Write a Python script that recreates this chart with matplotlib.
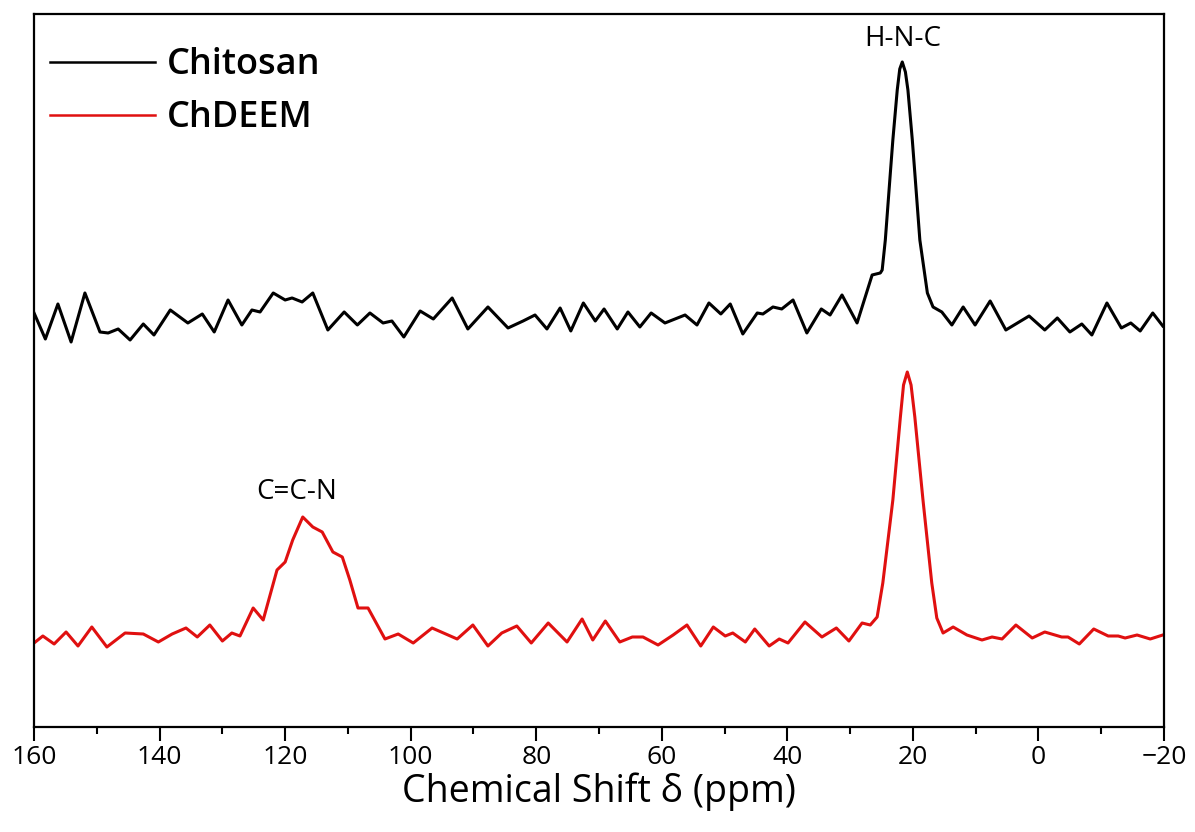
import numpy as np
import matplotlib
matplotlib.use('Agg')
from matplotlib import pyplot as plt
from matplotlib.ticker import MultipleLocator

plt.rcParams['font.family'] = ['Open Sans', 'DejaVu Sans']

# Chitosan, chemical shift (ppm) and intensity (a.u.)
chitosan_ppm = [160.0, 158.2, 156.2, 154.1, 151.9, 149.5, 148.2, 146.6, 144.7, 142.6,
                140.9, 138.3, 135.5, 133.2, 131.3, 129.1, 126.9, 125.3, 124.0, 121.9,
                120.0, 118.9, 117.3, 115.6, 113.2, 110.6, 108.5, 106.5, 104.4, 103.0,
                101.1, 98.5, 96.4, 93.4, 90.9, 87.7, 84.5, 82.1, 80.2, 78.3,
                76.2, 74.5, 72.5, 70.6, 69.2, 67.1, 65.4, 63.5, 61.7, 59.5,
                56.3, 54.4, 52.5, 50.6, 49.1, 47.1, 44.8, 43.9, 42.3, 40.9,
                39.1, 36.9, 34.6, 33.2, 31.3, 28.9, 26.5, 25.2, 24.9, 24.4,
                23.6, 23.2, 22.5, 22.1, 21.7, 21.2, 20.8, 20.1, 19.7, 18.9,
                17.7, 16.8, 15.4, 13.8, 12.0, 10.1, 7.7, 5.2, 1.5, -1.0,
                -3.0, -5.0, -6.9, -8.5, -10.9, -13.2, -14.7, -16.2, -18.2, -19.8]
chitosan_int = [4.14, 3.88, 4.23, 3.85, 4.34, 3.95, 3.94, 3.98, 3.87, 4.03,
                3.92, 4.17, 4.04, 4.13, 3.95, 4.27, 4.02, 4.17, 4.15, 4.34,
                4.27, 4.29, 4.25, 4.34, 3.97, 4.15, 4.02, 4.14, 4.04, 4.06,
                3.90, 4.16, 4.08, 4.29, 3.98, 4.20, 3.99, 4.06, 4.12, 3.98,
                4.19, 3.96, 4.24, 4.06, 4.18, 3.98, 4.15, 4.00, 4.14, 4.04,
                4.12, 4.02, 4.24, 4.13, 4.23, 3.93, 4.14, 4.13, 4.20, 4.18,
                4.27, 3.94, 4.18, 4.12, 4.32, 4.04, 4.52, 4.54, 4.57, 4.87,
                5.54, 5.87, 6.37, 6.58, 6.65, 6.55, 6.37, 5.87, 5.54, 4.87,
                4.34, 4.20, 4.15, 4.02, 4.20, 4.02, 4.26, 3.97, 4.11, 3.97,
                4.09, 3.95, 4.03, 3.92, 4.24, 3.99, 4.04, 3.96, 4.14, 4.01]

# ChDEEM
chdeem_ppm = [160.0, 158.6, 156.8, 154.9, 153.0, 150.8, 148.4, 145.5, 142.6, 140.2,
              138.0, 135.8, 134.0, 132.0, 130.0, 128.5, 127.2, 125.1, 123.5, 121.3,
              120.0, 118.8, 117.2, 115.6, 114.1, 112.4, 110.9, 109.7, 108.4, 106.8,
              104.1, 102.0, 99.6, 96.6, 92.6, 90.1, 87.7, 85.5, 83.1, 80.8,
              78.1, 75.1, 72.7, 71.0, 69.0, 66.7, 64.7, 63.0, 60.6, 58.2,
              56.0, 53.8, 51.8, 49.9, 48.7, 46.7, 45.2, 42.9, 41.3, 39.9,
              37.2, 34.5, 32.2, 30.2, 28.1, 26.8, 25.7, 24.8, 23.2, 22.0,
              21.5, 20.9, 20.3, 19.7, 18.4, 17.0, 16.2, 15.2, 13.6, 11.4,
              9.0, 7.4, 5.8, 3.6, 1.0, -1.0, -3.7, -4.7, -6.5, -8.8,
              -11.1, -12.7, -13.8, -15.7, -17.8, -19.8]
chdeem_int = [0.84, 0.91, 0.83, 0.95, 0.81, 1.00, 0.80, 0.94, 0.93, 0.85,
              0.93, 0.99, 0.90, 1.02, 0.86, 0.94, 0.91, 1.19, 1.07, 1.57,
              1.65, 1.87, 2.10, 2.00, 1.95, 1.75, 1.70, 1.47, 1.19, 1.19,
              0.88, 0.93, 0.84, 0.99, 0.88, 1.02, 0.81, 0.94, 1.01, 0.84,
              1.04, 0.85, 1.08, 0.87, 1.06, 0.85, 0.90, 0.90, 0.82, 0.92,
              1.02, 0.81, 1.00, 0.91, 0.94, 0.85, 0.98, 0.81, 0.88, 0.84,
              1.05, 0.90, 0.99, 0.86, 1.04, 1.02, 1.10, 1.44, 2.27, 3.10,
              3.42, 3.55, 3.42, 3.10, 2.27, 1.44, 1.09, 0.94, 1.00, 0.92,
              0.87, 0.90, 0.88, 1.02, 0.89, 0.95, 0.90, 0.90, 0.83, 0.98,
              0.91, 0.91, 0.89, 0.92, 0.88, 0.92]

fig = plt.figure(figsize=(11.95, 8.32), dpi=100)
ax = fig.add_axes([0.0285, 0.1262, 0.9456, 0.8570])

ax.plot(chitosan_ppm, chitosan_int, color='black', lw=2.2, label='Chitosan',
        solid_joinstyle='round')
ax.plot(chdeem_ppm, chdeem_int, color='#e01010', lw=2.2, label='ChDEEM',
        solid_joinstyle='round')

ax.text(21.7, 6.88, 'H-N-C', fontsize=20, ha='center', va='center')
ax.text(118.1, 2.35, 'C=C-N', fontsize=20, ha='center', va='center')

ax.set_xlim(160, -20)
ax.set_ylim(0, 7.13)
ax.set_yticks([])
ax.xaxis.set_major_locator(MultipleLocator(20))
ax.xaxis.set_minor_locator(MultipleLocator(10))
ax.tick_params(axis='x', which='major', direction='out', length=10, width=1.5,
               labelsize=19, pad=3)
ax.tick_params(axis='x', which='minor', direction='out', length=5, width=1.5)
for s in ax.spines.values():
    s.set_linewidth(1.6)

ax.set_xlabel('Chemical Shift δ (ppm)', fontsize=27, labelpad=2)

leg = ax.legend(loc='upper left', bbox_to_anchor=(0.014, 0.953), frameon=False,
                handlelength=2.9, handletextpad=0.33, labelspacing=0.47,
                borderaxespad=0, borderpad=0,
                prop={'size': 26, 'weight': 'semibold'})
for h in leg.get_lines():
    h.set_linewidth(1.8)

fig.savefig('out.png', dpi=100)
